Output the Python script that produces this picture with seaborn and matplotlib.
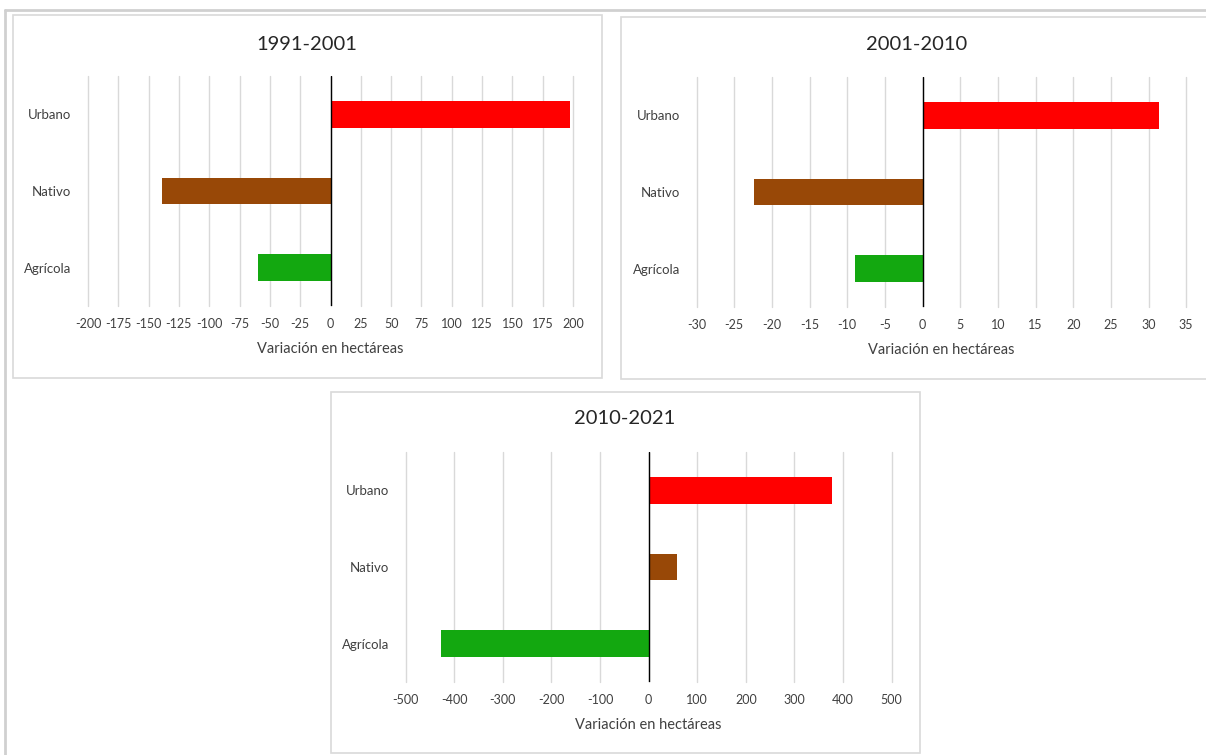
import matplotlib
matplotlib.use('Agg')
import matplotlib.pyplot as plt
import seaborn as sns
import pandas as pd
from matplotlib.patches import Rectangle
from matplotlib.lines import Line2D

# Data
categorias = ['Urbano', 'Nativo', 'Agrícola']
colores = ['#FF0000', '#984807', '#13A810']

titulos = ['1991-2001', '2001-2010', '2010-2021']
var_1991_2001 = [197.5, -138.6, -59.7]
var_2001_2010 = [31.4, -22.4, -8.9]
var_2010_2021 = [378, 59, -428]

ticks_1 = list(range(-200, 201, 25))
ticks_2 = list(range(-30, 36, 5))
ticks_3 = list(range(-500, 501, 100))

sns.set_theme(style='white')
plt.rcParams['font.family'] = ['Lato', 'DejaVu Sans']

W, H = 1206, 755
fig = plt.figure(figsize=(W / 100, H / 100), dpi=100)

# screenshot frame lines
fig.add_artist(Line2D([5 / W, 1], [1 - 10 / H, 1 - 10 / H], color='#D0D0D0', lw=2))
fig.add_artist(Line2D([5 / W, 5 / W], [0, 1 - 10 / H], color='#D0D0D0', lw=2))

# chart boxes (px: x0, y0, x1, y1)
boxes = [(13, 15, 602, 378), (621, 17, 1212, 379), (331, 392, 920, 753)]
for x0, y0, x1, y1 in boxes:
    fig.add_artist(Rectangle((x0 / W, 1 - y1 / H), (x1 - x0) / W, (y1 - y0) / H,
                             transform=fig.transFigure, facecolor='white',
                             edgecolor='#D9D9D9', lw=1.2, zorder=0))

# axes (px: left, top, right, bottom)
areas = [(88, 76, 573, 306), (696.5, 77, 1186.2, 307), (405.6, 452, 891.6, 682)]
datos = [var_1991_2001, var_2001_2010, var_2010_2021]
ticks = [ticks_1, ticks_2, ticks_3]
centros_titulo = [(307, 44), (917, 44), (625, 419)]

for i in range(3):
    l, t, r, b = areas[i]
    ax = fig.add_axes([l / W, 1 - b / H, (r - l) / W, (b - t) / H])
    ax.set_facecolor('none')
    df = pd.DataFrame({'cat': categorias, 'val': datos[i]})
    sns.barplot(data=df, x='val', y='cat', hue='cat', palette=colores,
                orient='h', width=0.35, ax=ax, legend=False, zorder=3,
                edgecolor='none', saturation=1)
    ax.set_xlim(ticks[i][0], ticks[i][-1])
    ax.set_ylim(2.5, -0.5)
    ax.set_xticks(ticks[i])
    ax.set_xticklabels([str(v) for v in ticks[i]])
    for v in ticks[i]:
        ax.axvline(v, color='#D9D9D9', lw=1, zorder=1, clip_on=False)
    ax.axvline(0, color='black', lw=1, zorder=4)
    for s in ax.spines.values():
        s.set_visible(False)
    ax.tick_params(axis='x', length=0, pad=9, labelsize=9, labelcolor='#404040')
    ax.tick_params(axis='y', length=0, pad=12, labelsize=9.5, labelcolor='#404040')
    ax.set_ylabel('')
    ax.set_xlabel('Variación en hectáreas', fontsize=10.5, color='#404040', labelpad=8)
    cx, cy = centros_titulo[i]
    fig.text(cx / W, 1 - cy / H, titulos[i], ha='center', va='center',
             fontsize=14.5, color='#262626')

fig.savefig('out.png', dpi=100)
